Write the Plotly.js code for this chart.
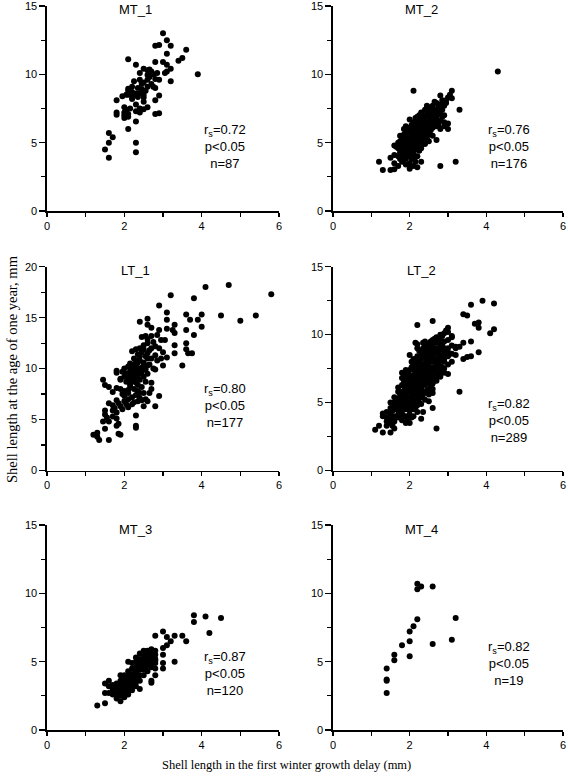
<!DOCTYPE html>
<html>
<head>
<meta charset="utf-8">
<script src="https://cdn.plot.ly/plotly-3.0.1.min.js"></script>
<style>html,body{margin:0;padding:0;background:#fff;}#chart{width:568px;height:778px;}</style>
</head>
<body>
<div id="chart"></div>
<script>
// ---------- DATA ----------
const panelNames = ["MT_1", "MT_2", "LT_1", "LT_2", "MT_3", "MT_4"];
const statR = ["0.72", "0.76", "0.80", "0.82", "0.87", "0.82"];
const statP = ["p<0.05", "p<0.05", "p<0.05", "p<0.05", "p<0.05", "p<0.05"];
const statN = ["87", "176", "177", "289", "120", "19"];
const xTickVals = [0, 2, 4, 6];
const xTitle = "Shell length in the first winter growth delay (mm)";
const yTitle = "Shell length at the age of one year, mm";

const mt1X = [3.0,3.1,2.8,2.9,3.2,3.6,3.1,3.5,3.4,2.1,
  3.0,3.1,2.8,2.3,3.2,3.9,2.5,2.6,2.7,2.75,
  2.85,2.4,3.05,3.1,2.65,2.8,2.6,2.9,2.4,2.5,
  3.2,2.7,2.75,2.8,2.2,2.35,2.45,2.1,2.2,2.3,
  2.4,2.5,2.1,2.2,2.35,2.5,2.9,1.8,1.95,2.05,
  2.2,2.5,2.8,2.3,2.4,2.6,2.5,2.0,2.05,2.15,
  2.3,2.4,2.8,2.9,1.8,1.8,2.0,2.0,2.0,2.1,
  2.1,2.3,2.1,1.6,1.7,1.6,2.3,1.5,2.3,1.6,
  2.6,2.45,2.55,2.65,2.25,2.6,2.1];
const mt1Y = [13.0,12.5,12.1,12.15,12.1,11.8,11.5,11.2,11.0,11.1,
  10.9,10.7,10.9,10.7,10.4,10.0,10.4,10.3,10.2,10.0,
  10.1,10.1,10.1,10.2,9.8,9.65,9.6,9.6,9.6,9.4,
  9.5,9.3,9.1,9.0,9.1,9.0,8.9,8.95,8.7,8.6,
  8.6,8.5,8.5,8.4,8.35,8.3,8.45,8.1,8.4,8.5,
  8.2,8.0,8.1,7.8,7.5,7.6,7.45,7.6,7.4,7.5,
  7.3,7.2,7.1,7.15,7.2,7.05,7.2,7.0,6.8,6.9,
  7.1,6.55,6.0,5.7,5.4,5.0,5.0,4.5,4.3,3.9,
  9.95,9.3,8.8,10.35,9.5,9.1,8.8];

const mt2Points = [
  [4.3,10.2],[2.1,8.8],[3.1,8.8],[3.05,8.5],[3.0,8.3],[3.1,8.25],[2.8,8.45],[2.95,8.1],[3.3,7.4],[1.2,3.6],
  [1.3,3.0],[1.5,3.0],[1.6,3.05],[1.5,3.9],[1.6,3.5],[2.0,3.1],[2.2,3.2],[2.3,3.6],[2.8,3.3],[3.2,3.6],
  [3.0,6.0],[3.0,6.4],[2.9,6.5],[2.7,5.2],[2.5,5.1],[1.6,4.8],
  [1.7,3.3],[1.8,3.6],[1.9,3.4],[2.0,3.5],[2.1,3.3],[2.05,3.8],[1.9,3.8],[2.15,3.6],
  [1.6,4.1],[1.7,4.0],[1.75,4.3],[1.8,4.5],[1.85,4.1],[1.9,4.4],[2.0,4.0],[2.0,4.3],[2.1,4.2],[2.15,4.5],[2.2,4.0],[1.95,4.6],[2.05,4.6],[2.25,4.4],
  [1.65,4.7],[1.7,5.0],[1.8,4.8],[1.85,5.0],[1.9,4.9],[1.95,5.1],[2.0,4.8],[2.1,4.9],[2.15,5.0],[2.2,4.7],[2.25,5.0],[2.3,4.8],[2.35,5.1],[1.75,5.1],[2.05,5.2],[2.4,4.9],
  [1.8,5.3],[1.85,5.6],[1.9,5.4],[1.95,5.7],[2.0,5.3],[2.05,5.5],[2.1,5.7],[2.15,5.3],[2.2,5.5],[2.25,5.7],[2.3,5.3],[2.35,5.5],[2.4,5.6],[2.45,5.3],[2.5,5.6],[1.75,5.5],[2.6,5.5],[2.0,5.9],
  [1.85,6.0],[1.9,6.2],[2.0,6.1],[2.05,6.3],[2.1,5.9],[2.15,6.1],[2.2,6.3],[2.25,5.9],[2.3,6.1],[2.35,6.3],[2.4,5.9],[2.45,6.1],[2.5,6.3],[2.55,5.9],[2.6,6.1],[2.7,6.2],[2.8,6.0],[2.9,6.2],[2.0,6.7],[2.75,6.4],
  [2.1,6.5],[2.15,6.8],[2.2,6.6],[2.25,7.0],[2.3,6.5],[2.35,6.8],[2.4,6.6],[2.45,6.9],[2.5,6.5],[2.55,6.7],[2.6,6.9],[2.65,6.5],[2.7,6.8],[2.8,6.6],[2.85,6.9],[2.6,6.3],
  [2.3,7.2],[2.4,7.4],[2.45,7.1],[2.5,7.3],[2.55,7.5],[2.6,7.1],[2.65,7.4],[2.7,7.2],[2.75,7.5],[2.8,7.1],[2.85,7.4],[2.9,7.0],[2.5,7.6],
  [2.6,7.7],[2.7,7.9],[2.75,7.7],[2.8,7.8],[2.85,8.1],[2.9,7.7],[2.65,8.0],[2.95,7.9],
  [1.8,3.9],[1.95,4.2],[2.1,4.6],[1.7,4.6],[2.0,5.0],[2.2,5.2],[1.9,5.2],[2.1,5.4],[2.3,5.6],[2.4,5.4],
  [2.5,5.8],[2.2,6.0],[2.35,6.0],[2.45,6.4],[2.55,6.2],[2.65,6.6],[2.4,6.9],[2.3,6.7],[2.6,7.3],[2.7,7.0],
  [2.2,5.8],[2.0,4.5],[1.85,4.7],[2.15,4.8],[2.25,6.2],[2.5,6.0],[2.05,5.8],[1.9,5.8],[2.35,7.0],[2.75,6.2],
  [2.8,7.3],[2.45,7.7],[2.2,6.9],[2.55,7.0],[1.75,3.8],[2.1,3.9],[2.3,4.6]
];

const lt1Points = [
  [5.8,17.3],[4.7,18.2],[4.1,18.0],[3.2,17.2],[3.8,16.9],[2.9,16.2],[4.5,15.2],[5.4,15.2],[5.0,14.7],[4.0,15.3],
  [3.9,14.8],[3.6,15.3],[3.7,14.8],[4.0,14.1],[3.1,15.5],[3.1,14.8],[3.3,14.3],[3.25,13.8],[3.3,13.5],[3.6,13.8],
  [3.8,13.3],[3.6,12.5],[3.6,11.9],[3.65,11.5],[3.75,11.5],[3.3,12.3],[3.3,11.5],[3.1,11.1],[3.0,10.3],[3.5,10.3],
  [2.4,14.6],[2.6,14.9],[2.6,14.3],[2.7,14.0],[2.9,13.8],[2.45,13.1],[2.55,13.2],[2.7,13.2],[2.85,13.3],[2.95,12.8],
  [3.05,12.8],[3.1,13.9],[2.75,12.6],[2.5,12.3],[2.6,12.5],[2.8,12.2],[2.9,12.0],[3.0,11.6],[2.65,11.8],[2.4,12.0],
  [2.2,11.7],[2.3,11.9],[2.35,11.4],[2.45,11.6],[2.55,11.2],[2.6,11.5],[2.7,11.0],[2.8,11.3],[2.85,10.8],[2.95,11.0],
  [2.25,11.0],[2.4,10.8],[2.5,10.6],[2.65,10.4],[2.75,10.0],[2.8,9.9],[2.15,10.5],[2.3,10.3],[2.45,10.1],[2.2,10.0],
  [2.35,10.0],[2.55,9.9],[2.0,10.0],[2.1,10.2],[2.6,10.3],
  [1.95,9.7],[2.05,9.5],[2.15,9.3],[2.25,9.6],[2.35,9.4],[2.45,9.7],[2.5,9.2],[2.1,9.0],[2.2,8.8],[2.3,9.1],
  [2.4,8.9],[2.55,8.7],[2.0,9.2],[1.9,9.0],[1.8,9.8],[1.8,9.6],[2.3,8.6],[2.6,9.5],[2.7,8.6],[1.9,8.9],
  [1.45,8.9],[1.5,8.4],[1.6,8.2],[1.8,8.1],[1.9,8.0],[2.0,7.8],[2.1,7.6],[2.15,8.3],[2.25,8.0],[2.35,7.8],
  [2.45,8.2],[2.5,7.6],[2.7,8.0],[2.9,7.3],[2.0,7.3],[2.1,7.0],[2.2,7.2],[1.95,7.5],[2.3,7.4],[2.55,7.0],
  [2.4,7.1],[1.7,7.7],
  [1.6,6.6],[1.7,6.4],[1.75,6.1],[1.85,6.6],[1.9,6.3],[2.0,6.8],[2.1,6.2],[2.25,6.7],[2.35,6.8],[2.45,6.9],
  [2.6,6.8],[2.8,6.3],[2.5,6.3],[2.65,7.6],[1.5,5.9],[1.5,5.5],[1.8,5.7],[1.7,5.9],[2.2,6.5],[1.95,6.0],
  [1.8,6.9],[2.05,6.5],
  [1.45,4.8],[1.6,4.8],[1.8,5.1],[1.85,4.6],[1.8,4.4],[1.85,3.6],[1.9,3.5],[2.3,5.4],[2.3,4.4],[2.3,4.2],
  [1.2,3.5],[1.3,3.7],[1.35,3.0],[1.5,4.1],[1.6,3.0],[1.3,3.3],[1.55,5.2],[1.7,5.3],
  [2.2,9.4],[2.3,9.8],[2.4,9.5],[2.25,10.4],[2.35,10.6],[2.45,9.9],[2.5,10.2],[2.15,9.8],[2.05,8.7],[2.15,8.5],
  [2.35,8.4],[2.2,9.1],[2.3,10.8],[2.4,11.2],[2.5,11.9],[2.6,11.0],[2.7,12.0],[2.1,7.9],[2.4,7.6],[2.6,12.9]
];

const lt2Points = [
  [3.9,12.5],[4.2,12.3],[3.6,12.2],[3.4,11.5],[3.5,11.4],[2.6,11.0],[3.7,10.8],[3.8,10.9],[2.2,10.7],[4.2,10.4],
  [4.1,10.1],[3.8,10.5],[3.6,9.5],[3.4,9.4],[3.8,8.7],[3.6,8.4],[3.5,8.35],[3.4,8.2],[3.3,5.8],[2.7,3.1],
  [2.5,5.1],[2.6,4.6],[2.35,4.3],[2.3,3.8],[1.1,3.0],[1.3,2.8],[1.5,2.8],[1.3,4.2],[1.3,4.0],[1.5,5.0],
  [1.6,3.1],[1.2,3.3],[1.55,3.3],[1.4,3.6],[3.0,10.5],[2.95,10.3],[3.2,9.0],[3.1,9.9],[3.3,9.1],[2.9,7.2],
  [3.0,7.1],[2.6,5.7],
  [1.5,3.8],[1.5,4.2],[1.5,4.6],[1.5,3.5],
  [1.6,4.0],[1.6,4.5],[1.6,5.0],[1.6,5.4],[1.6,3.6],[1.6,4.8],
  [1.7,3.9],[1.7,4.4],[1.7,4.8],[1.7,5.3],[1.7,5.8],[1.7,6.1],[1.7,4.1],[1.7,5.0],
  [1.8,3.7],[1.8,4.2],[1.8,4.6],[1.8,5.0],[1.8,5.4],[1.8,5.8],[1.8,6.3],[1.8,6.8],[1.8,7.2],[1.8,4.9],
  [1.9,3.5],[1.9,4.0],[1.9,4.5],[1.9,4.9],[1.9,5.3],[1.9,5.7],[1.9,6.1],[1.9,6.5],[1.9,7.0],[1.9,7.4],[1.9,5.5],[1.9,6.0],
  [2.0,3.5],[2.0,4.1],[2.0,4.6],[2.0,5.0],[2.0,5.4],[2.0,5.8],[2.0,6.2],[2.0,6.6],[2.0,7.0],[2.0,7.4],[2.0,8.5],[2.0,5.2],[2.0,6.0],[2.0,4.4],
  [2.1,4.0],[2.1,4.5],[2.1,5.0],[2.1,5.4],[2.1,5.8],[2.1,6.2],[2.1,6.6],[2.1,7.0],[2.1,7.4],[2.1,7.8],[2.1,8.2],[2.1,5.6],[2.1,6.4],[2.1,4.8],
  [2.2,4.3],[2.2,4.8],[2.2,5.2],[2.2,5.6],[2.2,6.0],[2.2,6.4],[2.2,6.8],[2.2,7.2],[2.2,7.6],[2.2,8.0],[2.2,8.4],[2.2,9.3],[2.2,9.0],[2.2,5.9],[2.2,6.6],
  [2.3,4.9],[2.3,5.4],[2.3,5.8],[2.3,6.2],[2.3,6.6],[2.3,7.0],[2.3,7.4],[2.3,7.8],[2.3,8.2],[2.3,8.6],[2.3,6.0],[2.3,7.2],
  [2.4,5.2],[2.4,5.8],[2.4,6.3],[2.4,6.7],[2.4,7.1],[2.4,7.5],[2.4,7.9],[2.4,8.3],[2.4,8.7],[2.4,9.2],[2.4,9.5],[2.4,6.5],[2.4,7.7],
  [2.5,5.6],[2.5,6.0],[2.5,6.5],[2.5,6.9],[2.5,7.3],[2.5,7.7],[2.5,8.1],[2.5,8.5],[2.5,8.9],[2.5,9.3],[2.5,7.0],[2.5,8.0],
  [2.6,6.0],[2.6,6.4],[2.6,6.8],[2.6,7.2],[2.6,7.6],[2.6,8.0],[2.6,8.4],[2.6,8.8],[2.6,9.2],[2.6,9.6],[2.6,7.4],[2.6,8.6],
  [2.7,6.6],[2.7,7.0],[2.7,7.4],[2.7,7.8],[2.7,8.2],[2.7,8.6],[2.7,9.0],[2.7,9.4],[2.7,9.8],[2.7,7.6],[2.7,8.8],
  [2.8,6.9],[2.8,7.3],[2.8,7.7],[2.8,8.1],[2.8,8.5],[2.8,8.9],[2.8,9.3],[2.8,9.7],[2.8,10.0],[2.8,8.3],
  [2.9,7.5],[2.9,8.0],[2.9,8.5],[2.9,9.0],[2.9,9.5],[2.9,10.1],[2.9,8.2],[2.9,8.8],
  [3.0,7.8],[3.0,8.4],[3.0,9.0],[3.0,9.6],[3.0,10.2],[3.0,8.7],
  [3.1,8.0],[3.1,8.6],[3.1,9.2],[3.1,9.8],
  [3.2,8.5],[3.2,9.1],
  [1.4,3.3],[1.4,3.9],[1.4,4.3],
  [1.75,4.5],[1.75,5.1],[1.75,5.6],
  [1.85,4.0],[1.85,4.8],[1.85,5.6],[1.85,6.2],[1.85,6.6],
  [1.95,3.8],[1.95,4.7],[1.95,5.1],[1.95,5.9],[1.95,6.3],[1.95,6.8],[1.95,7.2],
  [2.05,3.9],[2.05,4.8],[2.05,5.3],[2.05,5.7],[2.05,6.4],[2.05,6.9],[2.05,7.6],[2.05,8.0],
  [2.15,4.6],[2.15,5.1],[2.15,5.5],[2.15,6.0],[2.15,6.7],[2.15,7.2],[2.15,7.9],[2.15,9.4],
  [2.25,5.0],[2.25,5.5],[2.25,6.3],[2.25,6.9],[2.25,7.5],[2.25,8.1],[2.25,8.8],
  [2.35,5.6],[2.35,6.4],[2.35,6.9],[2.35,7.6],[2.35,8.4],[2.35,9.0],[2.35,9.4],
  [2.45,5.9],[2.45,6.6],[2.45,7.3],[2.45,8.1],[2.45,8.8],
  [2.55,6.2],[2.55,6.8],[2.55,7.5],[2.55,8.3],[2.55,9.0],[2.55,9.5],
  [2.65,6.6],[2.65,7.3],[2.65,8.1],[2.65,8.9],[2.65,9.7],
  [2.75,7.2],[2.75,8.0],[2.75,8.7],[2.75,9.5],
  [2.85,7.6],[2.85,8.4],[2.85,9.2],[2.85,9.9],
  [1.55,4.4],[1.55,3.9]
];

const mt3Points = [
  [3.8,8.4],[3.8,7.9],[4.1,8.3],[4.5,8.2],[4.2,7.1],[3.6,6.5],[3.5,6.9],[3.3,6.9],[3.1,6.8],[3.0,7.2],
  [2.8,6.9],[3.2,6.5],[3.1,6.2],[3.0,6.0],[3.3,5.0],[3.0,5.5],[3.0,4.9],[3.0,4.5],[2.8,4.0],[2.7,3.6],
  [2.7,3.45],[2.4,3.0],[1.3,1.8],[1.5,1.95],[1.5,2.7],[1.5,3.4],[1.6,3.6],
  [1.7,2.6],[1.7,3.0],[1.7,3.3],[1.7,2.8],
  [1.8,2.3],[1.8,2.7],[1.8,3.1],[1.8,3.4],[1.8,2.5],
  [1.9,2.1],[1.9,2.5],[1.9,2.9],[1.9,3.3],[1.9,3.6],[1.9,4.0],
  [2.0,2.4],[2.0,2.8],[2.0,3.1],[2.0,3.4],[2.0,3.7],[2.0,4.0],[2.0,2.6],[2.0,3.2],
  [2.1,2.6],[2.1,3.0],[2.1,3.3],[2.1,3.6],[2.1,3.9],[2.1,4.3],[2.1,5.0],[2.1,2.8],[2.1,3.5],
  [2.2,2.9],[2.2,3.2],[2.2,3.5],[2.2,3.8],[2.2,4.1],[2.2,4.5],[2.2,4.9],[2.2,3.7],
  [2.3,3.2],[2.3,3.5],[2.3,3.8],[2.3,4.2],[2.3,4.6],[2.3,5.0],[2.3,5.3],[2.3,4.0],[2.3,4.4],
  [2.4,3.6],[2.4,4.0],[2.4,4.4],[2.4,4.8],[2.4,5.2],[2.4,5.6],[2.4,4.6],[2.4,5.0],
  [2.5,4.0],[2.5,4.4],[2.5,4.8],[2.5,5.2],[2.5,5.5],[2.5,5.8],[2.5,4.6],[2.5,5.0],
  [2.6,4.3],[2.6,4.7],[2.6,5.1],[2.6,5.5],[2.6,5.8],[2.6,4.9],[2.6,5.3],
  [2.7,4.6],[2.7,5.0],[2.7,5.3],[2.7,5.6],[2.7,5.9],[2.7,4.8],[2.7,5.2],[2.7,5.5],
  [2.8,4.5],[2.8,4.9],[2.8,5.2],[2.8,5.5],[2.8,5.8],[2.8,5.1],
  [1.6,2.7],[1.6,3.2],[2.15,3.1],[2.15,4.0],[2.35,3.9],[2.35,4.8],[2.55,4.5]
];

const mt4X = [1.4,1.4,1.4,1.4,1.6,1.6,1.8,2.0,2.0,2.0,2.1,2.2,2.2,2.2,2.3,2.6,2.6,3.1,3.2];
const mt4Y = [4.5,3.7,3.6,2.7,5.5,5.1,6.2,6.5,5.4,7.2,7.6,8.1,10.7,10.3,10.5,10.5,6.3,6.6,8.2];

// ---------- BUILD ----------
const xs = [mt1X, mt2Points.map(p=>p[0]), lt1Points.map(p=>p[0]), lt2Points.map(p=>p[0]), mt3Points.map(p=>p[0]), mt4X];
const ys = [mt1Y, mt2Points.map(p=>p[1]), lt1Points.map(p=>p[1]), lt2Points.map(p=>p[1]), mt3Points.map(p=>p[1]), mt4Y];
const yMax = [15, 15, 20, 15, 15, 15];
const statY = [4.75, 4.75, 6.4, 3.65, 4.1, 4.9];

const W = 568, H = 778;
const colPx = [[47, 279], [333, 563]];
const rowPx = [[6, 211], [266.7, 470.5], [525, 730]];

const traces = [];
const layout = {
  width: W, height: H,
  margin: {l: 0, r: 0, t: 0, b: 0},
  paper_bgcolor: '#fff', plot_bgcolor: '#fff',
  showlegend: false,
  font: {family: 'Liberation Sans, Arial, sans-serif', size: 11, color: '#000'},
  annotations: []
};

for (let i = 0; i < 6; i++) {
  const col = i % 2, row = Math.floor(i / 2);
  const sfx = i === 0 ? '' : String(i + 1);
  traces.push({
    type: 'scatter', mode: 'markers',
    x: xs[i], y: ys[i],
    xaxis: 'x' + sfx, yaxis: 'y' + sfx,
    marker: {color: '#000', size: 6, line: {width: 0}},
    cliponaxis: false,
    hoverinfo: 'skip'
  });
  const yticks = [];
  const yminor = [];
  for (let v = 0; v <= yMax[i]; v += 5) yticks.push(v);
  for (let v = 2.5; v < yMax[i]; v += 5) yminor.push(v);
  layout['xaxis' + sfx] = {
    domain: [colPx[col][0] / W, colPx[col][1] / W],
    anchor: 'y' + sfx,
    range: [0, 6],
    showgrid: false, zeroline: false,
    showline: true, linecolor: '#000', linewidth: 1.6,
    ticks: 'outside', ticklen: 4, tickwidth: 1.2, tickcolor: '#000',
    tickvals: xTickVals,
    ticklabeloverflow: 'allow',
    minor: {tickvals: [1, 3, 5], ticks: 'outside', ticklen: 4, tickwidth: 1.2, tickcolor: '#000', showgrid: false},
    tickfont: {family: 'Liberation Sans, Arial, sans-serif', size: 11, color: '#000'},
    fixedrange: true
  };
  layout['yaxis' + sfx] = {
    domain: [1 - rowPx[row][1] / H, 1 - rowPx[row][0] / H],
    anchor: 'x' + sfx,
    range: [0, yMax[i]],
    showgrid: false, zeroline: false,
    showline: true, linecolor: '#000', linewidth: 1.6,
    ticks: 'outside', ticklen: 6, tickwidth: 1.2, tickcolor: '#000',
    tickvals: yticks,
    ticklabeloverflow: 'allow',
    minor: {tickvals: yminor, ticks: 'outside', ticklen: 4, tickwidth: 1.2, tickcolor: '#000', showgrid: false},
    tickfont: {family: 'Liberation Sans, Arial, sans-serif', size: 11, color: '#000'},
    fixedrange: true
  };
  layout.annotations.push({
    xref: 'x' + sfx, yref: 'y' + sfx, x: 2.3, y: yMax[i],
    yanchor: 'middle', xanchor: 'center', yshift: -4,
    text: panelNames[i], showarrow: false,
    font: {size: 13, color: '#000'}
  });
  layout.annotations.push({
    xref: 'x' + sfx, yref: 'y' + sfx, x: 4.6, y: statY[i],
    yanchor: 'middle', xanchor: 'center', align: 'center',
    text: 'r<sub>s</sub>=' + statR[i] + '<br>' + statP[i] + '<br>n=' + statN[i],
    showarrow: false,
    font: {size: 13, color: '#000'}
  });
}

layout.annotations.push({
  xref: 'paper', yref: 'paper', x: 286.5 / W, y: 1 - 765 / H,
  xanchor: 'center', yanchor: 'middle',
  text: xTitle, showarrow: false,
  font: {family: 'Liberation Serif, Times New Roman, serif', size: 12.5, color: '#000'}
});
layout.annotations.push({
  xref: 'paper', yref: 'paper', x: 12 / W, y: 1 - 369 / H,
  xanchor: 'center', yanchor: 'middle', textangle: -90,
  text: yTitle, showarrow: false,
  font: {family: 'Liberation Serif, Times New Roman, serif', size: 14.5, color: '#000'}
});

Plotly.newPlot('chart', traces, layout, {staticPlot: true, displayModeBar: false});
</script>
</body>
</html>
